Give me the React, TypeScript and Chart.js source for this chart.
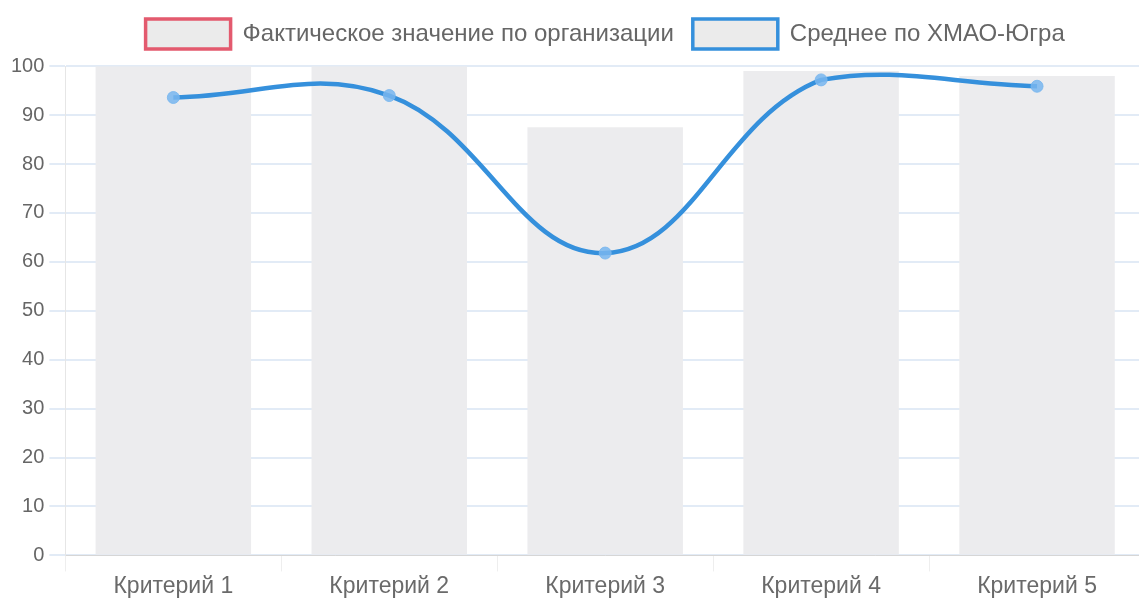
import React, { useEffect, useRef } from 'react';
import { Chart, registerables } from 'chart.js';

Chart.register(...registerables);

const categories = ['Критерий 1', 'Критерий 2', 'Критерий 3', 'Критерий 4', 'Критерий 5'];
const actualLabel = 'Фактическое значение по организации';
const averageLabel = 'Среднее по ХМАО-Югра';
const actualValues = [100, 100, 87.5, 99, 98];
const averageValues = [93.6, 94, 61.8, 97.2, 95.9];
const yMin = 0;
const yMax = 100;
const yStep = 10;

const FONT = '"Liberation Sans", Arial, sans-serif';

export default function App() {
  const canvasRef = useRef<HTMLCanvasElement | null>(null);

  useEffect(() => {
    if (!canvasRef.current) return;
    const chart = new Chart(canvasRef.current, {
      type: 'bar',
      data: {
        labels: categories,
        datasets: [
          {
            type: 'bar',
            label: actualLabel,
            data: actualValues,
            backgroundColor: '#ececee',
            borderColor: '#e35a6e',
            borderWidth: 0,
            categoryPercentage: 0.8,
            barPercentage: 0.9,
            order: 2,
          },
          {
            type: 'line',
            label: averageLabel,
            data: averageValues,
            borderColor: '#3590dc',
            backgroundColor: '#ebebeb',
            borderWidth: 4.5,
            tension: 0.4,
            fill: false,
            pointRadius: 6,
            pointBackgroundColor: 'rgba(120,182,238,0.85)',
            pointBorderColor: 'rgba(120,182,238,0.85)',
            pointBorderWidth: 1,
            order: 1,
          },
        ],
      },
      options: {
        animation: false,
        responsive: true,
        maintainAspectRatio: false,
        layout: { padding: { left: 6, right: 0, top: 0, bottom: 0 } },
        font: { family: FONT },
        plugins: {
          tooltip: { enabled: false },
          title: {
            display: true,
            text: '',
            position: 'top',
            weight: 500,
            fullSize: false,
            padding: 0,
            font: { size: 6, lineHeight: 1.2 },
          },
          legend: {
            position: 'top',
            fullSize: false,
            labels: {
              boxWidth: 85,
              boxHeight: 30,
              padding: 19,
              color: '#666',
              font: { size: 24, family: FONT },
              sort: (a: any, b: any) => a.datasetIndex - b.datasetIndex,
              generateLabels: (c: any) => {
                const items = Chart.defaults.plugins.legend.labels.generateLabels(c);
                items.forEach((it: any) => {
                  it.lineWidth = 3.5;
                  it.fillStyle = '#ebebeb';
                });
                return items;
              },
            },
          },
        },
        scales: {
          x: {
            grid: {
              display: true,
              drawOnChartArea: false,
              drawTicks: true,
              tickLength: 16,
              color: '#eeeeee',
            },
            border: { color: '#d6d6d6' },
            ticks: {
              color: '#6a6a6a',
              padding: 1,
              font: { size: 23, family: FONT },
            },
          },
          y: {
            min: yMin,
            max: yMax,
            ticks: {
              stepSize: yStep,
              color: '#666',
              padding: 5,
              font: { size: 20, family: FONT },
            },
            grid: {
              color: '#e2ebf6',
              tickLength: 16,
              lineWidth: 2,
            },
            border: { color: '#e6e6e6' },
          },
        },
      },
    });
    return () => chart.destroy();
  }, []);

  return (
    <div style={{ position: 'fixed', left: 0, top: 0, width: 1139, height: 601, overflow: 'hidden', background: '#fff' }}>
      <div style={{ position: 'relative', width: 1152, height: 601 }}>
        <canvas ref={canvasRef} />
      </div>
    </div>
  );
}
